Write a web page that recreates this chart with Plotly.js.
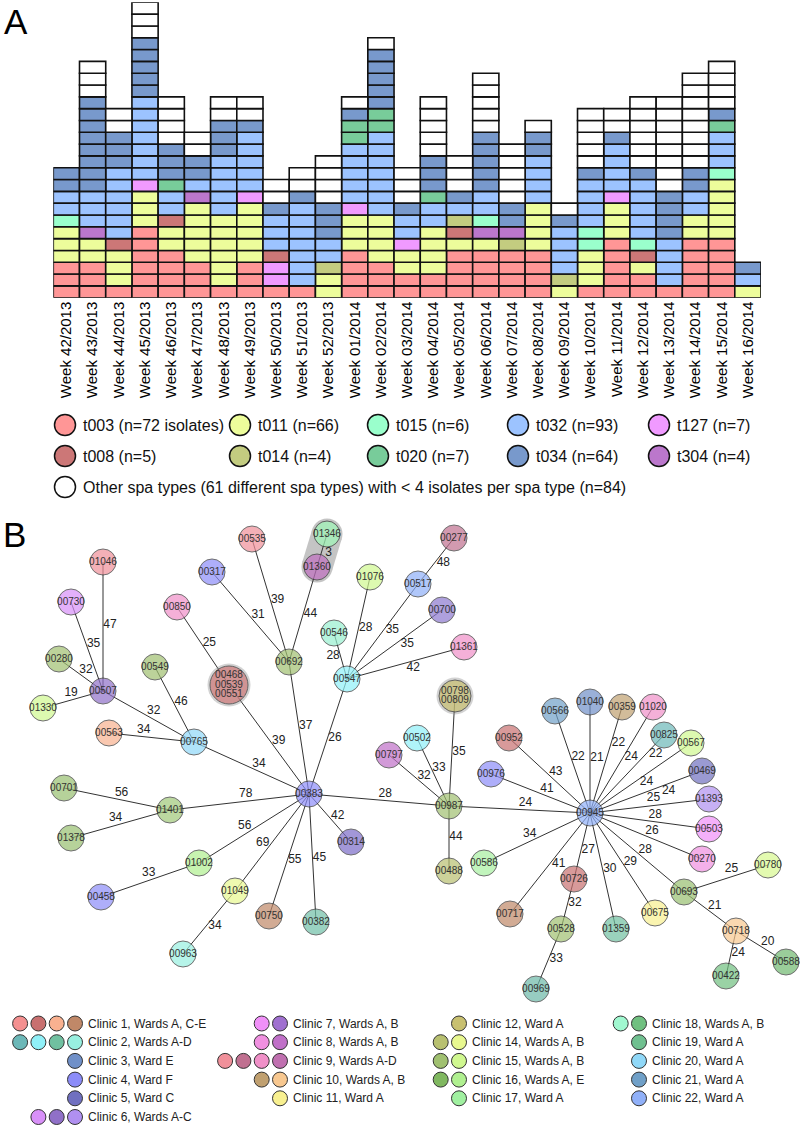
<!DOCTYPE html>
<html><head><meta charset="utf-8">
<script src="https://cdn.plot.ly/plotly-3.0.1.min.js"></script>
<style>html,body{margin:0;padding:0;background:#fff}</style>
</head><body><div id="chart" style="width:800px;height:1125px"></div>
<script>
// ---------- Panel A data ----------
const weeks = ['Week 42/2013','Week 43/2013','Week 44/2013','Week 45/2013','Week 46/2013','Week 47/2013','Week 48/2013','Week 49/2013','Week 50/2013','Week 51/2013','Week 52/2013','Week 01/2014','Week 02/2014','Week 03/2014','Week 04/2014','Week 05/2014','Week 06/2014','Week 07/2014','Week 08/2014','Week 09/2014','Week 10/2014','Week 11/2014','Week 12/2014','Week 13/2014','Week 14/2014','Week 15/2014','Week 16/2014'];
const t003  = [3,3,1,6,4,3,1,3,1,1,0,4,3,2,2,4,4,4,4,0,1,5,2,1,5,5,0];
const t011  = [3,2,3,3,2,5,6,5,0,0,2,3,4,2,4,1,1,0,4,1,3,3,1,0,2,5,1];
const t127  = [0,0,0,1,0,0,0,1,2,0,0,1,0,1,0,0,0,0,0,0,0,1,0,0,0,0,0];
const t008  = [0,0,1,0,1,0,0,0,1,0,0,0,0,0,0,1,0,0,0,0,0,0,1,0,0,0,0];
const t014  = [0,0,0,0,0,0,0,0,0,0,1,0,0,0,0,1,0,1,0,1,0,0,0,0,0,0,0];
const t304  = [0,1,0,0,0,1,0,0,0,0,0,0,0,0,0,0,1,1,0,0,0,0,0,0,0,0,0];
const t015  = [1,0,0,0,0,0,0,0,0,0,0,0,0,0,0,0,1,0,0,0,2,0,1,0,0,1,0];
const t032  = [2,3,6,7,2,1,5,5,3,7,2,5,7,2,2,1,2,0,4,4,4,4,5,4,2,3,1];
const t020  = [0,0,0,0,1,0,0,0,0,0,0,2,2,0,1,0,0,0,0,0,0,0,0,0,0,1,0];
const t034  = [2,8,3,5,3,2,3,1,1,1,3,1,5,1,3,1,5,2,2,1,1,1,1,4,2,1,1];
const other = [0,3,2,3,4,2,2,2,2,2,4,1,1,3,5,3,5,5,1,1,5,2,6,8,8,4,0];
const otherTypeCount = 61;

const series = {t003,t011,t127,t008,t014,t304,t015,t032,t020,t034,other};
const stackOrder = ['t003','t011','t127','t008','t014','t304','t015','t032','t020','t034','other'];
const legendAOrder = [['t003','t011','t015','t032','t127'],['t008','t014','t020','t034','t304']];

// ---------- Panel B data ----------
const nodeIds = ['01046','00730','00280','00507','01330','00535','00317','01346','01360','01076','00850','00546','00692','00549','00547','00517','00700','00277','01361','00468/00539/00551','00563','00765','00701','01401','01378','00383','01002','00458','01049','00963','00750','00382','00314','00797','00502','00798/00809','00987','00488','00586','00952','00566','01040','00359','01020','00825','00567','00976','00945','00469','01393','00503','00270','00693','00780','00726','00717','00528','01359','00675','00718','00588','00422','00969'];
const nodeX = [103,71,59,103,43,252,212,327,317,370,177,334,289,155,347,418,442,454,464,229,109,194,64,170,71,309,199,101,235,183,269,316,351,389,417,455,449,449,484,509,555,590,622,653,664,691,491,590,702,709,709,702,684,768,574,510,561,616,655,736,786,726,536];
const nodeY = [562,602,659,691,708,539,572,534,567,577,607,633,662,667,679,584,610,538,647,685,733,742,788,810,838,794,863,897,891,954,916,922,842,755,738,696,806,871,863,738,711,702,707,707,735,743,774,813,771,799,829,859,892,865,879,914,929,929,913,931,962,976,989];
const nodeColor = ['#f0909a','#d890f8','#a0c070','#9070c8','#d0f890','#f0909a','#8c8cf8','#a0f8b8','#c070c0','#d0f890','#f090c8','#98f0d0','#a0c070','#a0c070','#90f0f8','#90b0f8','#8c78d0','#c07090','#f090c8','#d07878','#f9b190','#90d8f8','#98c070','#a0c878','#98c070','#8c8cf8','#b0f090','#8c8cf8','#e8f890','#98f0e0','#c08868','#70c0a8','#7c6cc8','#c070c8','#90f0f8','#c8c070','#a0c070','#b8c070','#a8f0a0','#c87070','#70a0c8','#7090c8','#c0a070','#f090c8','#6cb8b8','#d0f890','#8c8cf8','#90b0f8','#7070c0','#b090f0','#f090f8','#f090e0','#98c070','#d8f890','#c87070','#c08868','#a0c070','#70c0a0','#f8f090','#f8c890','#70b870','#70c080','#6cb8a8'];

const edgeFrom = ['01046','00730','00280','01330','00507','00549','00563','00765','00850','00468/00539/00551','00317','00535','01360','01346','00692','01076','00546','00517','00277','00700','01361','00547','00701','01378','01401','01002','00458','01049','00963','00750','00382','00314','00383','00797','00502','00798/00809','00488','00987','00952','00566','01040','00359','01020','00825','00567','00469','01393','00503','00270','00693','00780','00718','00588','00422','00675','01359','00726','00528','00969','00717','00586','00976'];
const edgeTo   = ['00507','00507','00507','00507','00765','00765','00765','00383','00468/00539/00551','00383','00692','00692','00692','01360','00383','00547','00547','00547','00517','00547','00547','00383','01401','01401','00383','00383','01002','00383','01049','00383','00383','00383','00987','00987','00987','00987','00987','00945','00945','00945','00945','00945','00945','00945','00945','00945','00945','00945','00945','00945','00693','00693','00718','00718','00945','00945','00945','00726','00528','00945','00945','00945'];
const edgeDist = [47,35,32,19,32,46,34,34,25,39,31,39,44,3,37,28,28,35,48,35,42,26,56,34,78,56,33,69,34,55,45,42,28,32,33,35,44,24,43,22,21,22,24,22,24,24,25,28,26,28,25,21,20,24,29,30,27,32,33,41,34,41];
const labelT    = [0.49,0.5,0.52,0.5,0.52,0.51,0.4,0.54,0.51,0.55,0.53,0.51,0.47,0.51,0.49,0.48,0.45,0.44,0.45,0.41,0.45,0.49,0.53,0.47,0.55,0.45,0.51,0.45,0.51,0.48,0.5,0.44,0.54,0.51,0.49,0.51,0.52,0.54,0.52,0.47,0.5,0.32,0.44,0.18,0.48,0.32,0.46,0.46,0.47,0.46,0.41,0.49,0.44,0.54,0.47,0.5,0.46,0.56,0.55,0.54,0.46,0.54];
const labelSide = [1,1,1,1,1,1,1,1,1,1,1,1,1,1,1,1,-1,1,1,1,1,1,1,1,1,1,1,1,-1,-1,-1,-1,1,1,1,1,-1,1,1,1,1,1,1,1,1,1,-1,-1,-1,-1,-1,-1,-1,-1,-1,-1,-1,-1,-1,-1,1,1];
const highlightPair = ['01346','01360'];

const clinicNames = ['Clinic 1, Wards A, C-E','Clinic 2, Wards A-D','Clinic 3, Ward E','Clinic 4, Ward F','Clinic 5, Ward C','Clinic 6, Wards A-C','Clinic 7, Wards A, B','Clinic 8, Wards A, B','Clinic 9, Wards A-D','Clinic 10, Wards A, B','Clinic 11, Ward A','Clinic 12, Ward A','Clinic 14, Wards A, B','Clinic 15, Wards A, B','Clinic 16, Wards A, E','Clinic 17, Ward A','Clinic 18, Wards A, B','Clinic 19, Ward A','Clinic 20, Ward A','Clinic 21, Ward A','Clinic 22, Ward A'];
const clinicWardColors = [['#f49090','#c87070','#f9b190','#c08868'],['#6cb8b8','#90f0f8','#70c0a0','#98f0e0'],['#7090c8'],['#8c8cf8'],['#7070c0'],['#d890f8','#9070c8','#b090f0'],['#f090f8','#a070d0'],['#f090e0','#c070c8'],['#f0909a','#c07090','#f090c8','#c070b0'],['#c0a070','#f8c890'],['#f8f090'],['#c8c070'],['#b8c070','#e8f890'],['#a0c070','#d0f890'],['#80b860','#b0f090'],['#a0f0a0'],['#a0f8d0','#70c080'],['#70c090'],['#90d8f8'],['#70a0c8'],['#90b0f8']];
const clinicColumn = [0,0,0,0,0,0,1,1,1,1,1,2,2,2,2,2,3,3,3,3,3];

// ---------- styles ----------
const catColors = {t003:'#ff9696',t011:'#edfd9b',t127:'#f09aff',t008:'#cc7777',t014:'#c3cc80',t304:'#bb77cc',t015:'#9affcc',t032:'#9cc3ff',t020:'#78cc9a',t034:'#7899cc',other:'#ffffff'};
const FONT = 'Liberation Sans, Arial, sans-serif';
const NARROW = 'Liberation Sans Narrow, Arial Narrow, Liberation Sans, sans-serif';

const traces = [];
// stacked unit cells
stackOrder.forEach(cat => {
  const xs = [], bs = [], ys = [];
  weeks.forEach((w, i) => {
    let base = 0;
    for (const c of stackOrder) { if (c === cat) break; base += series[c][i]; }
    for (let k = 0; k < series[cat][i]; k++) { xs.push(w); bs.push(base + k); ys.push(1); }
  });
  traces.push({type:'bar', x:xs, y:ys, base:bs, width:1, xaxis:'x', yaxis:'y', hoverinfo:'skip',
    marker:{color:catColors[cat], line:{color:'#111', width:1.6}}});
});

const annotations = [];
const sum = a => a.reduce((s, v) => s + v, 0);

// legend A
const legAColX = [65, 240, 378, 518, 659], legARowY = [425, 456, 487];
const lgx = [], lgy = [], lgc = [];
legendAOrder.forEach((row, r) => row.forEach((cat, c) => {
  lgx.push(legAColX[c]); lgy.push(legARowY[r]); lgc.push(catColors[cat]);
  const n = sum(series[cat]);
  const txt = cat === 't003' ? `${cat} (n=${n} isolates)` : `${cat} (n=${n})`;
  annotations.push({xref:'x2', yref:'y2', x:legAColX[c] + 16, y:legARowY[r], xanchor:'left', yanchor:'middle', showarrow:false, text:txt, font:{family:FONT, size:16, color:'#111'}});
}));
lgx.push(legAColX[0]); lgy.push(legARowY[2]); lgc.push(catColors.other);
annotations.push({xref:'x2', yref:'y2', x:legAColX[0] + 16, y:legARowY[2], xanchor:'left', yanchor:'middle', showarrow:false,
  text:`Other spa types (${otherTypeCount} different spa types) with &lt; 4 isolates per spa type (n=${sum(other)})`, font:{family:FONT, size:16, color:'#111'}});
traces.push({type:'scatter', mode:'markers', x:lgx, y:lgy, xaxis:'x2', yaxis:'y2', hoverinfo:'skip',
  marker:{size:21, color:lgc, line:{color:'#111', width:1.5}}});

// ---------- network ----------
const idx = id => nodeIds.indexOf(id);
// highlight capsule
const hp = highlightPair.map(idx);
traces.push({type:'scatter', mode:'lines+markers', x:hp.map(i => nodeX[i]), y:hp.map(i => nodeY[i]), xaxis:'x2', yaxis:'y2', hoverinfo:'skip',
  line:{color:'#c4c4c4', width:31}, marker:{size:31, color:'#c4c4c4', line:{width:0}}});
// edges
const ex = [], ey = [], lx = [], ly = [], lt = [];
edgeFrom.forEach((a, k) => {
  const i = idx(a), j = idx(edgeTo[k]);
  const x1 = nodeX[i], y1 = nodeY[i], x2 = nodeX[j], y2 = nodeY[j];
  ex.push(x1, x2, null); ey.push(y1, y2, null);
  const dx = x2 - x1, dy = y2 - y1, L = Math.hypot(dx, dy);
  const nx = dy / L, ny = -dx / L, off = 7 * labelSide[k];
  lx.push(x1 + labelT[k] * dx + off * nx); ly.push(y1 + labelT[k] * dy + off * ny); lt.push(String(edgeDist[k]));
});
traces.push({type:'scatter', mode:'lines', x:ex, y:ey, xaxis:'x2', yaxis:'y2', hoverinfo:'skip', line:{color:'#333', width:1}});
traces.push({type:'scatter', mode:'text', x:lx, y:ly, text:lt, xaxis:'x2', yaxis:'y2', hoverinfo:'skip',
  textfont:{family:FONT, size:12, color:'#222'}});
// halos for grouped nodes
const nParts = nodeIds.map(id => id.split('/').length);
const nodeSize = nParts.map(n => n === 1 ? 26 : (n === 2 ? 32 : 38));
const grp = nodeIds.map((id, i) => i).filter(i => nParts[i] > 1);
traces.push({type:'scatter', mode:'markers', x:grp.map(i => nodeX[i]), y:grp.map(i => nodeY[i]), xaxis:'x2', yaxis:'y2', hoverinfo:'skip',
  marker:{size:grp.map(i => nodeSize[i] + 5), color:'rgba(140,140,140,0.55)', line:{width:0}}});
traces.push({type:'scatter', mode:'markers', x:nodeX, y:nodeY, xaxis:'x2', yaxis:'y2', hoverinfo:'skip',
  marker:{size:nodeSize, color:nodeColor, line:{color:'#333', width:1}}});
// node labels
const tx = [], ty = [], tt = [];
nodeIds.forEach((id, i) => {
  const parts = id.split('/');
  parts.forEach((p, j) => { tx.push(nodeX[i]); ty.push(nodeY[i] + (j - (parts.length - 1) / 2) * 9.6); tt.push(p); });
});
traces.push({type:'scatter', mode:'text', x:tx, y:ty, text:tt, xaxis:'x2', yaxis:'y2', hoverinfo:'skip',
  textfont:{family:NARROW, size:10, color:'#333'}});

// legend B
const legBTextX = [86, 291, 470, 650], legBRowY0 = 1023.5, legBRowStep = 18.7, legBDotStep = 18.3;
const bx = [], by = [], bc = [];
const rowCounter = [0, 0, 0, 0];
clinicNames.forEach((name, k) => {
  const col = clinicColumn[k], row = rowCounter[col]++;
  const y = legBRowY0 + row * legBRowStep;
  const cols = clinicWardColors[k];
  cols.forEach((c, j) => { bx.push(legBTextX[col] - 11 - (cols.length - 1 - j) * legBDotStep); by.push(y); bc.push(c); });
  annotations.push({xref:'x2', yref:'y2', x:legBTextX[col], y:y, xanchor:'left', yanchor:'middle', showarrow:false, text:name,
    font:{family:NARROW, size:12, color:'#222'}});
});
traces.push({type:'scatter', mode:'markers', x:bx, y:by, xaxis:'x2', yaxis:'y2', hoverinfo:'skip',
  marker:{size:15, color:bc, line:{color:'#333', width:1}}});

// panel letters
annotations.push({xref:'x2', yref:'y2', x:16, y:21, showarrow:false, text:'A', font:{family:FONT, size:35, color:'#000'}});
annotations.push({xref:'x2', yref:'y2', x:14, y:534, showarrow:false, text:'B', font:{family:FONT, size:35, color:'#000'}});

const layout = {
  width:800, height:1125, margin:{l:0, r:0, t:0, b:0}, paper_bgcolor:'#fff', plot_bgcolor:'rgba(0,0,0,0)',
  showlegend:false, barmode:'overlay', bargap:0,
  xaxis:{domain:[53.3/800, 761/800], type:'category', categoryorder:'array', categoryarray:weeks, range:[-0.5, weeks.length - 0.5],
    tickangle:-90, tickfont:{family:FONT, size:15, color:'#000'}, showgrid:false, zeroline:false, showline:false, ticks:'', automargin:false, anchor:'y'},
  yaxis:{domain:[1 - 297.7/1125, 1 - 2.3/1125], range:[0, 25], visible:false, anchor:'x'},
  xaxis2:{domain:[0, 1], range:[0, 800], visible:false, anchor:'y2'},
  yaxis2:{domain:[0, 1], range:[1125, 0], visible:false, anchor:'x2'},
  annotations:annotations
};
Plotly.newPlot('chart', traces, layout, {staticPlot:true, displayModeBar:false});
</script></body></html>
